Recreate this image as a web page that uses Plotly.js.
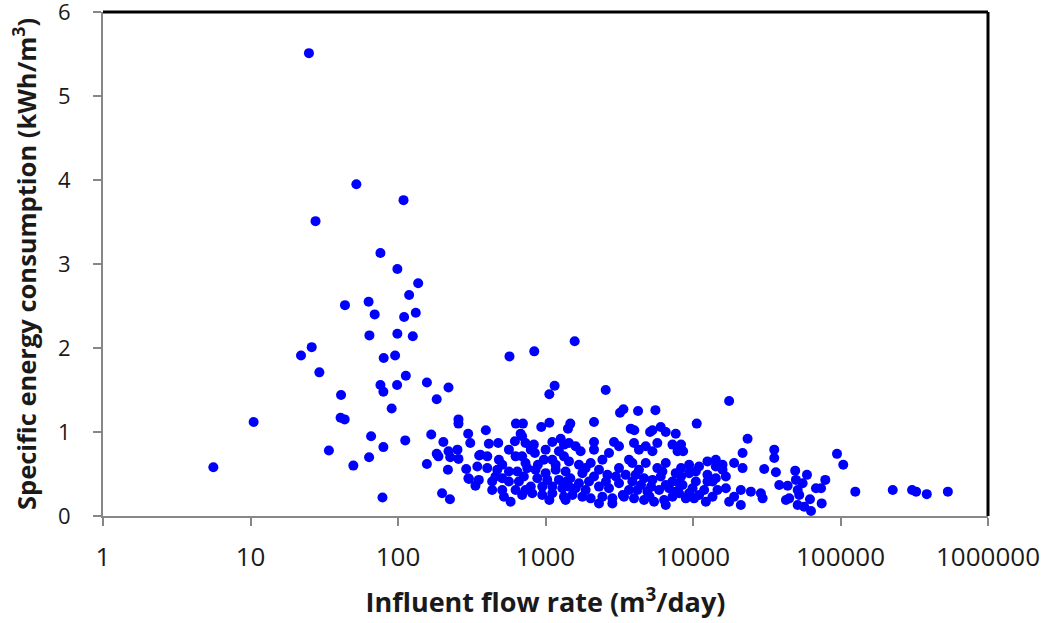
<!DOCTYPE html>
<html>
<head>
<meta charset="utf-8">
<script src="https://cdn.plot.ly/plotly-3.0.1.min.js"></script>
<style>html,body{margin:0;padding:0;background:#fff;}#chart{width:1055px;height:623px;}</style>
</head>
<body>
<div id="chart"></div>
<script>
// Influent flow rate (m3/day)
const flowRate = [
5.6,10.5,24.9,22,26,27.6,29.3,34,40.8,43.5,41.1,43.7,52.2,49.8,63.2,64,65.7,63.7,69.5,76,76,79.6,80,79.6,78.5,90.6,95.6,98.6,99,99,109,110,113,112,119,126,132,137,157,157,168,183,183,188,199,203,218,220,220,225,226,253,257,257,257,290,299,300,303,309,335,345,355,353,362,394,403,403,413,435,458,471,478,483,509,509,565,565,565,570,580,620,627,627,630,644,660,678,694,703,713,732,732,752,813,834,839,847,856,880,936,951,975,1002,1028,1062,1062,1112,1112,1112,1153,1172,1233,1268,1334,1334,1334,1369,1369,1390,1420,1442,1442,1473,1473,1521,1577,1600,1686,1686,1730,1778,1871,1972,2024,2132,2132,2132,2305,2305,2431,2559,2628,2694,2694,2840,2913,3150,3150,3200,3375,3405,3498,3682,3682,3785,3880,3983,3983,4000,4090,4200,4240,4300,4656,4656,4782,4912,5115,5309,5309,5309,5446,5560,5730,5889,6040,6040,6200,6370,6535,6535,6880,7260,7260,7260,7640,7640,7860,8050,8050,8300,8300,8490,8570,8940,9410,9410,9930,10170,10450,10600,10990,11900,12220,12530,12530,13560,14280,14280,14660,15860,16700,16700,17580,17580,19000,19000,21100,21100,21680,21680,23440,24680,28850,29640,30390,35550,35550,36480,38430,42660,43840,44900,49300,49870,51240,51240,52500,55370,56780,59260,62080,63100,68200,73800,74550,78860,94700,104400,126000,226000,305600,325700,384600,534400,
1778,2132,3000,2570,4440,5200,6535,3340,5080,1871,1600,2840,2305,6535,1442,3880,2431,2024,4782,5730,4300,3150,7640,
435,509,795,951,1112,1300,694,523,1062,732,888,1172,795,1002,1233,694,
8300,10450,12530,9410,11000,13560,14280,15860
];
// Specific energy consumption (kWh/m3)
const energy = [
0.58,1.12,5.51,1.91,2.01,3.51,1.71,0.78,1.17,1.15,1.44,2.51,3.95,0.60,2.55,2.15,0.95,0.70,2.40,3.13,1.56,1.48,1.88,0.82,0.22,1.28,1.91,1.56,2.94,2.17,3.76,2.37,1.67,0.90,2.63,2.14,2.42,2.77,1.59,0.62,0.97,1.39,0.74,0.71,0.27,0.88,0.55,1.53,0.77,0.20,0.70,0.79,0.68,1.15,1.10,0.56,0.98,0.45,0.44,0.87,0.36,0.59,0.72,0.43,0.73,1.02,0.71,0.57,0.86,0.31,0.47,0.55,0.87,0.67,0.61,0.31,0.79,0.53,0.41,1.90,0.17,0.89,0.71,0.31,1.10,0.53,0.41,0.98,0.71,1.10,0.47,0.87,0.31,0.57,0.27,0.85,1.96,0.75,0.55,0.45,1.06,0.25,0.67,0.51,0.43,1.11,1.45,0.88,0.67,0.27,1.55,0.55,0.43,0.92,0.85,0.71,0.23,0.53,0.19,0.41,1.04,0.65,0.87,1.10,0.45,0.25,2.08,0.83,0.61,0.39,0.77,0.23,0.57,0.41,0.21,1.12,0.88,0.79,0.55,0.35,0.23,1.50,0.49,0.75,0.33,0.21,0.88,0.83,0.39,1.23,1.27,0.23,0.49,0.67,0.31,1.04,0.63,0.87,0.21,1.02,0.49,0.31,1.25,0.79,0.45,0.19,0.83,0.29,1.00,1.02,0.77,0.43,0.17,1.26,0.87,0.31,1.06,0.47,0.53,0.19,1.00,0.63,0.33,0.85,0.41,0.23,0.98,0.29,0.77,0.39,0.27,0.57,0.85,0.37,0.77,0.21,0.61,0.51,0.33,0.21,0.53,1.10,0.59,0.31,0.17,0.65,0.49,0.41,0.59,0.45,0.31,0.55,0.47,0.33,1.37,0.17,0.63,0.23,0.31,0.13,0.75,0.57,0.92,0.29,0.27,0.21,0.56,0.79,0.69,0.52,0.37,0.19,0.36,0.21,0.54,0.43,0.31,0.13,0.25,0.39,0.11,0.49,0.20,0.06,0.33,0.33,0.15,0.43,0.74,0.61,0.29,0.31,0.31,0.29,0.26,0.29,
0.51,0.47,0.47,0.41,0.37,0.35,0.37,0.25,0.23,0.31,0.33,0.15,0.15,0.13,0.35,0.41,0.67,0.63,0.63,0.57,0.55,0.57,0.51,
0.41,0.45,0.35,0.35,0.35,0.33,0.25,0.23,0.19,0.63,0.61,0.61,0.79,0.79,0.77,0.95,
0.47,0.41,0.41,0.27,0.25,0.23,0.67,0.61
];
const xTickVals = [1,10,100,1000,10000,100000,1000000];
const xTickText = ['1','10','100','1000','10000','100000','1000000'];
const yTickVals = [0,1,2,3,4,5,6];

const axisGrey = '#878787';
const fontFam = '"Open Sans", "DejaVu Sans", sans-serif';

const trace = {
  type: 'scatter',
  mode: 'markers',
  x: flowRate,
  y: energy,
  marker: {color: '#0000FF', size: 10, line: {width: 0}},
  hoverinfo: 'x+y'
};

const layout = {
  width: 1055,
  height: 623,
  margin: {l: 103, r: 67, t: 12, b: 107},
  paper_bgcolor: '#fff',
  plot_bgcolor: '#fff',
  showlegend: false,
  xaxis: {
    type: 'log',
    range: [0, 6],
    tickvals: xTickVals,
    ticktext: xTickText,
    ticks: 'outside',
    ticklen: 8,
    tickwidth: 2,
    tickcolor: axisGrey,
    showline: true,
    linecolor: axisGrey,
    linewidth: 2,
    showgrid: false,
    zeroline: false,
    ticklabeloverflow: 'allow',
    ticklabelstandoff: 9,
    tickfont: {family: fontFam, size: 26, color: '#1a1a1a'},
    title: {text: 'Influent flow rate (m<sup>3</sup>/day)', standoff: 20,
            font: {family: fontFam, size: 27, color: '#1a1a1a', weight: 700}}
  },
  yaxis: {
    range: [0, 6],
    tickvals: yTickVals,
    ticks: 'outside',
    ticklen: 8,
    tickwidth: 2,
    tickcolor: axisGrey,
    showline: true,
    linecolor: axisGrey,
    linewidth: 2,
    showgrid: false,
    zeroline: false,
    ticklabeloverflow: 'allow',
    ticklabelstandoff: 18,
    tickfont: {family: fontFam, size: 22, color: '#1a1a1a'},
    title: {text: 'Specific energy consumption (kWh/m<sup>3</sup>)', standoff: 14,
            font: {family: fontFam, size: 25.5, color: '#1a1a1a', weight: 700}}
  },
  shapes: [
    {type: 'line', xref: 'paper', yref: 'paper', x0: 0, x1: 1, y0: 1, y1: 1, line: {color: '#000', width: 3}, layer: 'above'},
    {type: 'line', xref: 'paper', yref: 'paper', x0: 1, x1: 1, y0: 0, y1: 1, line: {color: '#000', width: 3}, layer: 'above'}
  ]
};

Plotly.newPlot('chart', [trace], layout, {displayModeBar: false, staticPlot: true});
</script>
</body>
</html>
